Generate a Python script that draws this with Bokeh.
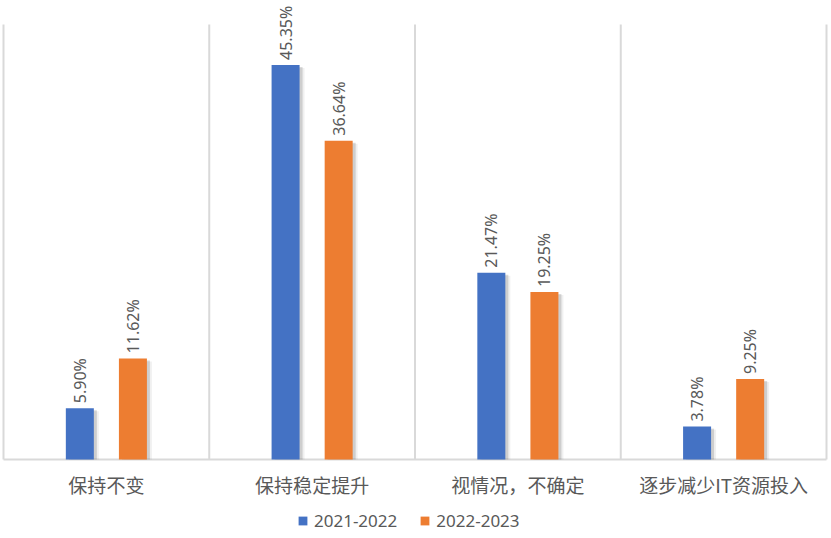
import numpy as np
from bokeh.plotting import figure
from bokeh.models import Range1d, Legend, LegendItem, ColumnDataSource
from bokeh.core.properties import value
from bokeh.embed import file_html
from bokeh.resources import INLINE

categories = ["保持不变", "保持稳定提升", "视情况，不确定", "逐步减少IT资源投入"]
series_names = ["2021-2022", "2022-2023"]
s2021 = [5.90, 45.35, 21.47, 3.78]
s2022 = [11.62, 36.64, 19.25, 9.25]
colors = ["#4472C4", "#ED7D31"]

W, H = 831, 538
px_x = 823 / 4.0          # pixels per category unit
px_y = 435 / 50.0         # pixels per percent

p = figure(width=W, height=H, output_backend="svg", toolbar_location=None,
           x_range=Range1d(-3 / px_x, 4 + 5 / px_x),
           y_range=Range1d(-79 / px_y, 50 + 24 / px_y),
           x_axis_location=None, y_axis_location=None,
           min_border_left=0, min_border_right=0,
           min_border_top=0, min_border_bottom=0)
p.outline_line_color = None
p.background_fill_color = "white"
p.border_fill_color = "white"
p.xgrid.grid_line_color = None
p.ygrid.grid_line_color = None

n = len(categories)
centers = np.arange(n) + 0.5

# category separators and baseline
bounds = np.arange(n + 1)
p.segment(x0=bounds, y0=0, x1=bounds, y1=50, line_color="#d9d9d9", line_width=2)
p.segment(x0=[0], y0=[0], x1=[n], y1=[0], line_color="#d9d9d9", line_width=2)

bw = 28 / px_x
off = 0.129
renderers = []
for k, (vals, col) in enumerate(zip([s2021, s2022], colors)):
    xs = centers + (-off if k == 0 else off)
    vals = np.array(vals)
    # soft shadow
    for dx, dy, a in [(5, 3, 0.06), (3, 2, 0.14)]:
        p.vbar(x=xs + dx / px_x, top=vals - dy / px_y, bottom=0, width=bw,
               fill_color="#000000", fill_alpha=a, line_color=None)
    r = p.vbar(x=xs, top=vals, bottom=0, width=bw, fill_color=col, line_color=None)
    renderers.append(r)
    src = ColumnDataSource(dict(x=xs, y=vals, t=[f"{v:.2f}%" for v in vals]))
    p.text(x="x", y="y", text="t", source=src, angle=np.pi / 2,
           text_align="left", text_baseline="middle", x_offset=0, y_offset=-5,
           text_font=value("Noto Sans"), text_font_size="16px", text_color="#595959")

# category labels under the baseline
csrc = ColumnDataSource(dict(x=centers, y=np.zeros(n), t=categories))
p.text(x="x", y="y", text="t", source=csrc, text_align="center", text_baseline="middle",
       y_offset=25, text_font=value("Noto Sans CJK SC"), text_font_size="19px",
       text_color="#595959")

legend = Legend(items=[LegendItem(label=nm, renderers=[r]) for nm, r in zip(series_names, renderers)],
                orientation="horizontal", location=(297, 6),
                glyph_width=11, glyph_height=11, label_standoff=6, spacing=22,
                padding=0, margin=0, border_line_color=None, background_fill_alpha=0,
                label_text_font="Noto Sans", label_text_font_size="17px",
                label_text_color="#595959")
p.add_layout(legend, "center")

open("out.html", "w").write(file_html(p, INLINE))
